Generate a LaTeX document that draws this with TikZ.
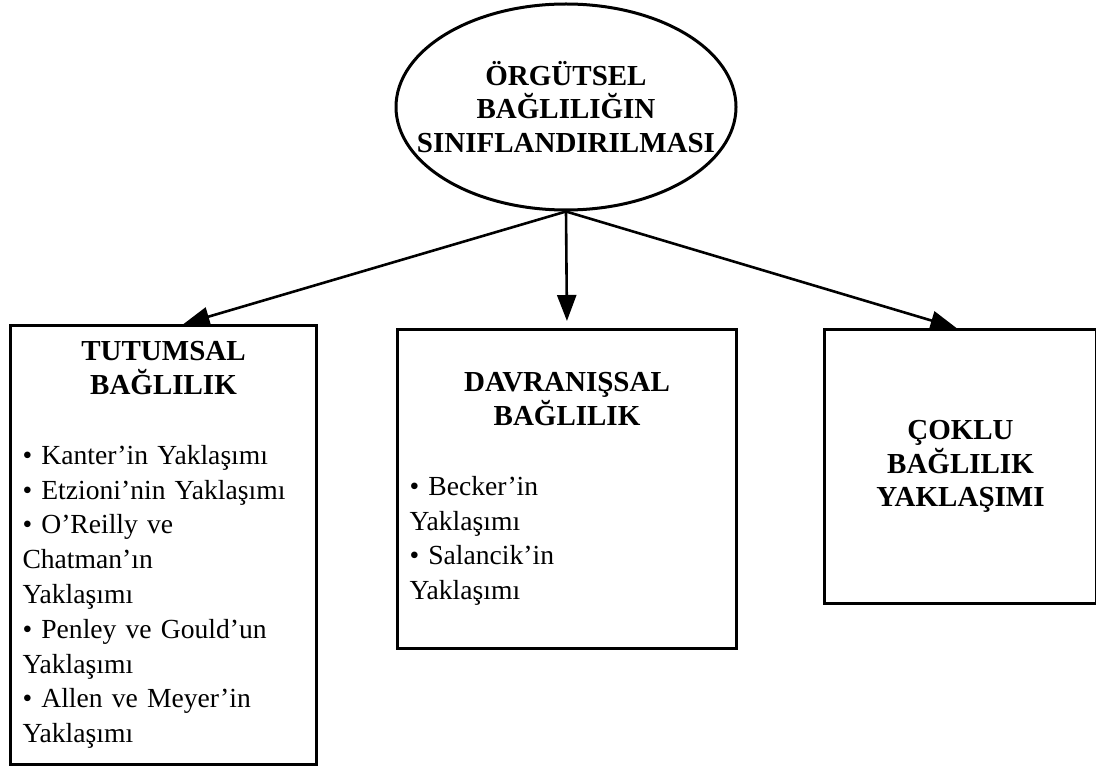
\documentclass[tikz,border=0pt]{standalone}
\usepackage{fontspec}
\setmainfont{Liberation Serif}
\usetikzlibrary{positioning, arrows.meta, shapes.geometric}

\newcommand{\headfont}{\bfseries\fontsize{14.5}{16.9}\selectfont}
\newcommand{\bodyfont}{\fontsize{13.8}{17.4}\selectfont}

\begin{document}
\begin{tikzpicture}[
  x=0.5pt, y=-0.5pt,
  >={Triangle[length=13pt, width=9.5pt]},
  rootnode/.style={
    draw, ellipse, line width=1.5pt, inner xsep=-20pt, inner ysep=0pt,
    minimum width=170pt, minimum height=103pt,
    align=center, font=\headfont
  },
  catbox/.style={
    draw, line width=1.5pt, anchor=north west,
    inner sep=6pt, font=\bodyfont, align=left
  },
  arrow/.style={->, line width=1.3pt}
]
\useasboundingbox (0,0) rectangle (1096,770);

\node[rootnode] (root) at (566,107) {ÖRGÜTSEL\\ BAĞLILIĞIN\\ SINIFLANDIRILMASI};

\node[catbox, minimum width=153pt, minimum height=219.5pt, text width=141pt] (tutumsal) at (9,324) {%
  {\centering\headfont TUTUMSAL\\ BAĞLILIK\par}
  \vspace{17.5pt}
  • Kanter’in Yaklaşımı\\
  • Etzioni’nin Yaklaşımı\\
  • O’Reilly ve\\
  Chatman’ın\\
  Yaklaşımı\\
  • Penley ve Gould’un\\
  Yaklaşımı\\
  • Allen ve Meyer’in\\
  Yaklaşımı};

\node[catbox, minimum width=169.5pt, minimum height=159.5pt, text width=157.5pt] (davranissal) at (396,328) {%
  {\centering\headfont DAVRANIŞSAL\\ BAĞLILIK\par}
  \vspace{17.5pt}
  • Becker’in\\
  Yaklaşımı\\
  • Salancik’in\\
  Yaklaşımı};

\node[catbox, minimum width=136pt, minimum height=137pt, text width=124pt,
  align=center, font=\headfont] (coklu) at (823,328) {ÇOKLU\\ BAĞLILIK\\ YAKLAŞIMI};

\draw[arrow] (root.south) -- ([xshift=10pt]tutumsal.north);
\draw[arrow, shorten >=3.5pt] (root.south) -- (davranissal.north);
\draw[arrow] (root.south) -- ([xshift=-2pt]coklu.north);

\end{tikzpicture}
\end{document}
